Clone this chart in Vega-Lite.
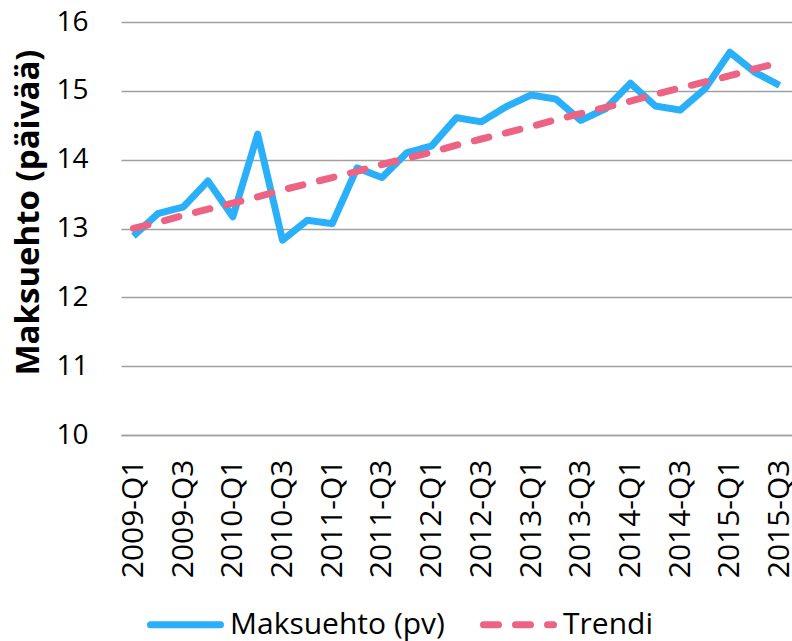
{
  "$schema": "https://vega.github.io/schema/vega-lite/v6.json",
  "width": 671,
  "height": 413,
  "autosize": {"type": "none"},
  "padding": {"left": 121, "top": 22, "right": 0, "bottom": 206},
  "background": "white",
  "config": {
    "font": "Open Sans",
    "view": {"stroke": null}
  },
  "data": {
    "values": [
      {"q": "2009-Q1", "series": "Maksuehto (pv)", "value": 12.89},
      {"q": "2009-Q2", "series": "Maksuehto (pv)", "value": 13.22},
      {"q": "2009-Q3", "series": "Maksuehto (pv)", "value": 13.31},
      {"q": "2009-Q4", "series": "Maksuehto (pv)", "value": 13.69},
      {"q": "2010-Q1", "series": "Maksuehto (pv)", "value": 13.17},
      {"q": "2010-Q2", "series": "Maksuehto (pv)", "value": 14.37},
      {"q": "2010-Q3", "series": "Maksuehto (pv)", "value": 12.83},
      {"q": "2010-Q4", "series": "Maksuehto (pv)", "value": 13.12},
      {"q": "2011-Q1", "series": "Maksuehto (pv)", "value": 13.07},
      {"q": "2011-Q2", "series": "Maksuehto (pv)", "value": 13.88},
      {"q": "2011-Q3", "series": "Maksuehto (pv)", "value": 13.74},
      {"q": "2011-Q4", "series": "Maksuehto (pv)", "value": 14.1},
      {"q": "2012-Q1", "series": "Maksuehto (pv)", "value": 14.2},
      {"q": "2012-Q2", "series": "Maksuehto (pv)", "value": 14.61},
      {"q": "2012-Q3", "series": "Maksuehto (pv)", "value": 14.55},
      {"q": "2012-Q4", "series": "Maksuehto (pv)", "value": 14.77},
      {"q": "2013-Q1", "series": "Maksuehto (pv)", "value": 14.94},
      {"q": "2013-Q2", "series": "Maksuehto (pv)", "value": 14.88},
      {"q": "2013-Q3", "series": "Maksuehto (pv)", "value": 14.57},
      {"q": "2013-Q4", "series": "Maksuehto (pv)", "value": 14.74},
      {"q": "2014-Q1", "series": "Maksuehto (pv)", "value": 15.11},
      {"q": "2014-Q2", "series": "Maksuehto (pv)", "value": 14.78},
      {"q": "2014-Q3", "series": "Maksuehto (pv)", "value": 14.72},
      {"q": "2014-Q4", "series": "Maksuehto (pv)", "value": 15.03},
      {"q": "2015-Q1", "series": "Maksuehto (pv)", "value": 15.56},
      {"q": "2015-Q2", "series": "Maksuehto (pv)", "value": 15.27},
      {"q": "2015-Q3", "series": "Maksuehto (pv)", "value": 15.08},
      {"q": "2009-Q1", "series": "Trendi", "value": 13.0},
      {"q": "2009-Q2", "series": "Trendi", "value": 13.09},
      {"q": "2009-Q3", "series": "Trendi", "value": 13.19},
      {"q": "2009-Q4", "series": "Trendi", "value": 13.28},
      {"q": "2010-Q1", "series": "Trendi", "value": 13.37},
      {"q": "2010-Q2", "series": "Trendi", "value": 13.46},
      {"q": "2010-Q3", "series": "Trendi", "value": 13.56},
      {"q": "2010-Q4", "series": "Trendi", "value": 13.65},
      {"q": "2011-Q1", "series": "Trendi", "value": 13.74},
      {"q": "2011-Q2", "series": "Trendi", "value": 13.83},
      {"q": "2011-Q3", "series": "Trendi", "value": 13.93},
      {"q": "2011-Q4", "series": "Trendi", "value": 14.02},
      {"q": "2012-Q1", "series": "Trendi", "value": 14.11},
      {"q": "2012-Q2", "series": "Trendi", "value": 14.21},
      {"q": "2012-Q3", "series": "Trendi", "value": 14.3},
      {"q": "2012-Q4", "series": "Trendi", "value": 14.39},
      {"q": "2013-Q1", "series": "Trendi", "value": 14.48},
      {"q": "2013-Q2", "series": "Trendi", "value": 14.58},
      {"q": "2013-Q3", "series": "Trendi", "value": 14.67},
      {"q": "2013-Q4", "series": "Trendi", "value": 14.76},
      {"q": "2014-Q1", "series": "Trendi", "value": 14.85},
      {"q": "2014-Q2", "series": "Trendi", "value": 14.95},
      {"q": "2014-Q3", "series": "Trendi", "value": 15.04},
      {"q": "2014-Q4", "series": "Trendi", "value": 15.13},
      {"q": "2015-Q1", "series": "Trendi", "value": 15.22},
      {"q": "2015-Q2", "series": "Trendi", "value": 15.32},
      {"q": "2015-Q3", "series": "Trendi", "value": 15.41}
    ]
  },
  "encoding": {
    "x": {
      "field": "q",
      "type": "ordinal",
      "sort": null,
      "scale": {"type": "point", "padding": 0.5},
      "axis": {
        "title": null,
        "values": ["2009-Q1","2009-Q3","2010-Q1","2010-Q3","2011-Q1","2011-Q3","2012-Q1","2012-Q3","2013-Q1","2013-Q3","2014-Q1","2014-Q3","2015-Q1","2015-Q3"],
        "labelAngle": -90,
        "labelFontSize": 30,
        "labelColor": "#000000",
        "labelPadding": 24,
        "labelOverlap": false,
        "labelBound": false,
        "ticks": false,
        "domain": true,
        "domainColor": "#a0a0a0",
        "domainWidth": 1.5,
        "grid": false
      }
    },
    "y": {
      "field": "value",
      "type": "quantitative",
      "scale": {"domain": [10, 16], "nice": false, "zero": false},
      "axis": {
        "title": "Maksuehto (päivää)",
        "titleFontSize": 33,
        "titleFontWeight": "bold",
        "titleColor": "#000000",
        "titleX": -93,
        "titleY": 190,
        "titleAngle": -90,
        "titleBaseline": "middle",
        "values": [10, 11, 12, 13, 14, 15, 16],
        "labelFontSize": 28,
        "labelColor": "#000000",
        "labelPadding": 33,
        "labelOverlap": false,
        "ticks": false,
        "domain": false,
        "grid": true,
        "gridColor": "#a0a0a0",
        "gridWidth": 1.5
      }
    },
    "color": {
      "field": "series",
      "type": "nominal",
      "scale": {"domain": ["Maksuehto (pv)", "Trendi"], "range": ["#2AAFFA", "#EC6384"]},
      "legend": {
        "title": null,
        "orient": "none",
        "legendX": 26,
        "legendY": 564,
        "direction": "horizontal",
        "symbolType": "stroke",
        "symbolSize": 4900,
        "symbolStrokeWidth": 7,
        "labelFontSize": 30,
        "labelLimit": 400,
        "labelColor": "#000000",
        "labelOffset": 6,
        "columnPadding": 24,
        "encode": {"symbols": {"update": {"strokeCap": {"value": "round"}}}}
      }
    },
    "strokeDash": {
      "field": "series",
      "type": "nominal",
      "scale": {"domain": ["Maksuehto (pv)", "Trendi"], "range": [[1, 0], [15, 17]]},
      "legend": {
        "title": null,
        "orient": "none",
        "legendX": 26,
        "legendY": 564,
        "direction": "horizontal",
        "symbolType": "stroke",
        "symbolSize": 4900,
        "symbolStrokeWidth": 7,
        "labelFontSize": 30,
        "labelLimit": 400,
        "labelColor": "#000000",
        "labelOffset": 6,
        "columnPadding": 24,
        "encode": {"symbols": {"update": {"strokeCap": {"value": "round"}}}}
      }
    }
  },
  "layer": [
    {
      "transform": [{"filter": "datum.series === 'Maksuehto (pv)'"}],
      "mark": {"type": "line", "strokeWidth": 7, "strokeJoin": "round", "strokeCap": "butt"}
    },
    {
      "transform": [{"filter": "datum.series === 'Trendi'"}],
      "mark": {"type": "line", "strokeWidth": 7, "strokeCap": "round"}
    }
  ]
}
